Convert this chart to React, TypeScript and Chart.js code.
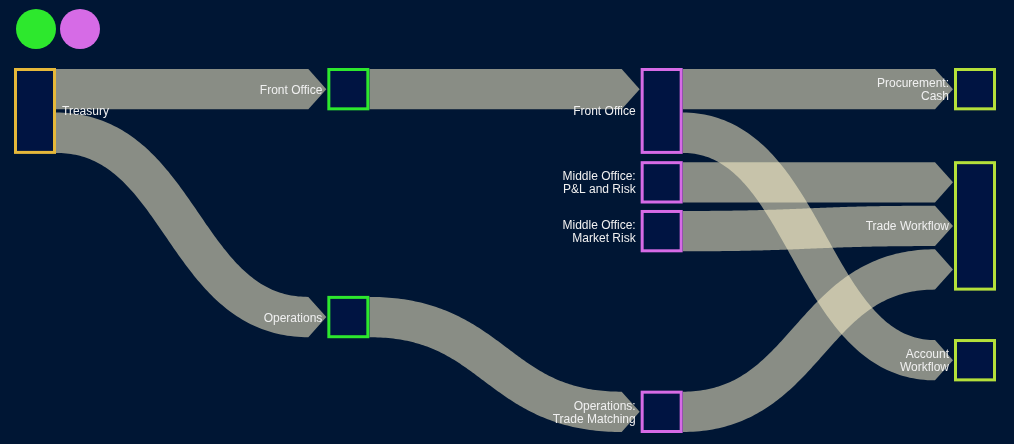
import React, { useEffect, useRef } from 'react';
import { Chart, registerables } from 'chart.js';

Chart.register(...registerables);

// ---- Data ----
const nodeNames = [
  'Treasury',
  'Front Office',
  'Operations',
  'Front Office',
  'Middle Office:\nP&L and Risk',
  'Middle Office:\nMarket Risk',
  'Operations:\nTrade Matching',
  'Procurement:\nCash',
  'Trade Workflow',
  'Account\nWorkflow',
];
const nodeColumns = [0, 1, 1, 2, 2, 2, 2, 3, 3, 3];
const nodeTops = [0, 0, 5.65, 0, 2.31, 3.52, 8.0, 0, 2.31, 6.72];
const linkSources = [0, 0, 1, 2, 3, 3, 4, 5, 6];
const linkTargets = [1, 2, 3, 6, 7, 9, 8, 8, 8];
const linkValues = [1, 1, 1, 1, 1, 1, 1, 1, 1];
const columnColors = ['#e6b83a', '#2de82d', '#d66be6', '#b5e03a'];
const legendColors = ['#2de82d', '#d66be6'];

// ---- Styles ----
const BG = '#001634';
const NODE_FILL = '#001442';
const LINK_COLOR = 'rgba(250,240,200,0.55)';
const LINK_GAP = 0.08; // gap between stacked links at a node, in value units
const NODE_W = 42;
const BORDER = 3;
const ARROW = 18;
const FONT = '12px "Liberation Sans", Arial, sans-serif';
const TEXT_COLOR = '#f0f0f0';

function nodeHeight(i: number): number {
  let inSum = 0, inN = 0, outSum = 0, outN = 0;
  linkTargets.forEach((t, k) => { if (t === i) { inSum += linkValues[k]; inN++; } });
  linkSources.forEach((s, k) => { if (s === i) { outSum += linkValues[k]; outN++; } });
  const a = inN ? inSum + (inN - 1) * LINK_GAP : 0;
  const b = outN ? outSum + (outN - 1) * LINK_GAP : 0;
  return Math.max(a, b);
}

// band of uniform (perpendicular) thickness around a cubic centre line, ending in an arrow
function linkPath(ctx: CanvasRenderingContext2D, x0: number, y0: number, x1: number, y1: number, w: number, xt: number) {
  const xm = (x0 + x1) / 2;
  const P = [[x0, y0], [xm, y0], [xm, y1], [x1, y1]];
  const N = 120;
  const up: number[][] = [];
  const lo: number[][] = [];
  for (let i = 0; i <= N; i++) {
    const t = i / N;
    const u = 1 - t;
    const bx = u * u * u * P[0][0] + 3 * u * u * t * P[1][0] + 3 * u * t * t * P[2][0] + t * t * t * P[3][0];
    const by = u * u * u * P[0][1] + 3 * u * u * t * P[1][1] + 3 * u * t * t * P[2][1] + t * t * t * P[3][1];
    const dx = 3 * u * u * (P[1][0] - P[0][0]) + 6 * u * t * (P[2][0] - P[1][0]) + 3 * t * t * (P[3][0] - P[2][0]);
    const dy = 3 * u * u * (P[1][1] - P[0][1]) + 6 * u * t * (P[2][1] - P[1][1]) + 3 * t * t * (P[3][1] - P[2][1]);
    const len = Math.hypot(dx, dy) || 1;
    const nx = -dy / len;
    const ny = dx / len;
    up.push([bx - (nx * w) / 2, by - (ny * w) / 2]);
    lo.push([bx + (nx * w) / 2, by + (ny * w) / 2]);
  }
  ctx.beginPath();
  ctx.moveTo(up[0][0], up[0][1]);
  for (let i = 1; i < up.length; i++) ctx.lineTo(up[i][0], up[i][1]);
  ctx.lineTo(xt, y1);
  for (let i = lo.length - 1; i >= 0; i--) ctx.lineTo(lo[i][0], lo[i][1]);
  ctx.closePath();
}

const sankeyPlugin = {
  id: 'sankeyDraw',
  beforeDraw(chart: any) {
    const ctx = chart.ctx;
    ctx.save();
    ctx.fillStyle = BG;
    ctx.fillRect(0, 0, chart.width, chart.height);
    ctx.restore();
  },
  afterDatasetsDraw(chart: any) {
    const ctx: CanvasRenderingContext2D = chart.ctx;
    const xs = chart.scales.x;
    const ys = chart.scales.y;
    const px = (v: number) => xs.getPixelForValue(v);
    const py = (v: number) => ys.getPixelForValue(v);

    const outOff = nodeNames.map(() => 0);
    const inOff = nodeNames.map(() => 0);

    ctx.save();
    ctx.fillStyle = LINK_COLOR;
    linkSources.forEach((s, k) => {
      const t = linkTargets[k];
      const v = linkValues[k];
      const s0 = nodeTops[s] + outOff[s];
      const t0 = nodeTops[t] + inOff[t];
      outOff[s] += v + LINK_GAP;
      inOff[t] += v + LINK_GAP;
      const x0 = px(nodeColumns[s]) + NODE_W;
      const xt = px(nodeColumns[t]) - 1;
      const x1 = xt - ARROW;
      const yc0 = (py(s0) + py(s0 + v)) / 2;
      const yc1 = (py(t0) + py(t0 + v)) / 2;
      const w = py(s0 + v) - py(s0);
      linkPath(ctx, x0, yc0, x1, yc1, w, xt);
      ctx.fill('nonzero');
    });

    // nodes
    nodeNames.forEach((_, i) => {
      const x = px(nodeColumns[i]);
      const y0 = py(nodeTops[i]) - 1;
      const y1 = py(nodeTops[i] + nodeHeight(i)) + 1;
      ctx.fillStyle = NODE_FILL;
      ctx.fillRect(x, y0, NODE_W, y1 - y0);
      ctx.strokeStyle = columnColors[nodeColumns[i]];
      ctx.lineWidth = BORDER;
      ctx.strokeRect(x + BORDER / 2, y0 + BORDER / 2, NODE_W - BORDER, y1 - y0 - BORDER);
    });

    // labels
    ctx.font = FONT;
    ctx.fillStyle = TEXT_COLOR;
    ctx.textBaseline = 'alphabetic';
    nodeNames.forEach((name, i) => {
      const x = px(nodeColumns[i]);
      const yc = (py(nodeTops[i]) + py(nodeTops[i] + nodeHeight(i))) / 2;
      const lines = name.split('\n');
      const lh = 13;
      const first = yc - ((lines.length - 1) * lh) / 2 + 4.5;
      if (nodeColumns[i] === 0) {
        ctx.textAlign = 'left';
        lines.forEach((l, j) => ctx.fillText(l, x + NODE_W + 6, first + j * lh));
      } else {
        ctx.textAlign = 'right';
        lines.forEach((l, j) => ctx.fillText(l, x - 5, first + j * lh));
      }
    });

    // legend circles
    legendColors.forEach((c, i) => {
      ctx.beginPath();
      ctx.arc(36 + i * 44, 29, 20, 0, Math.PI * 2);
      ctx.fillStyle = c;
      ctx.fill();
    });
    ctx.restore();
  },
};

export default function App() {
  const ref = useRef<HTMLCanvasElement | null>(null);
  useEffect(() => {
    document.body.style.margin = '0';
    document.body.style.background = BG;
    const canvas = ref.current;
    if (!canvas) return;
    const chart = new Chart(canvas, {
      type: 'scatter',
      data: {
        datasets: [
          {
            label: 'nodes',
            data: nodeNames.map((_, i) => ({ x: nodeColumns[i], y: nodeTops[i] })),
            pointRadius: 0,
          },
        ],
      },
      options: {
        responsive: false,
        animation: false,
        devicePixelRatio: 1,
        layout: { padding: { left: 14, right: 60, top: 69, bottom: 12 } },
        scales: {
          x: { type: 'linear', min: 0, max: 3, display: false },
          y: { type: 'linear', min: 0, max: 9, reverse: true, display: false },
        },
        plugins: {
          legend: { display: false },
          tooltip: { enabled: false },
          title: { display: false },
        },
      },
      plugins: [sankeyPlugin],
    });
    return () => chart.destroy();
  }, []);
  return (
    <div style={{ width: 1014, height: 444, background: BG }}>
      <canvas ref={ref} width={1014} height={444} style={{ display: 'block' }} />
    </div>
  );
}
